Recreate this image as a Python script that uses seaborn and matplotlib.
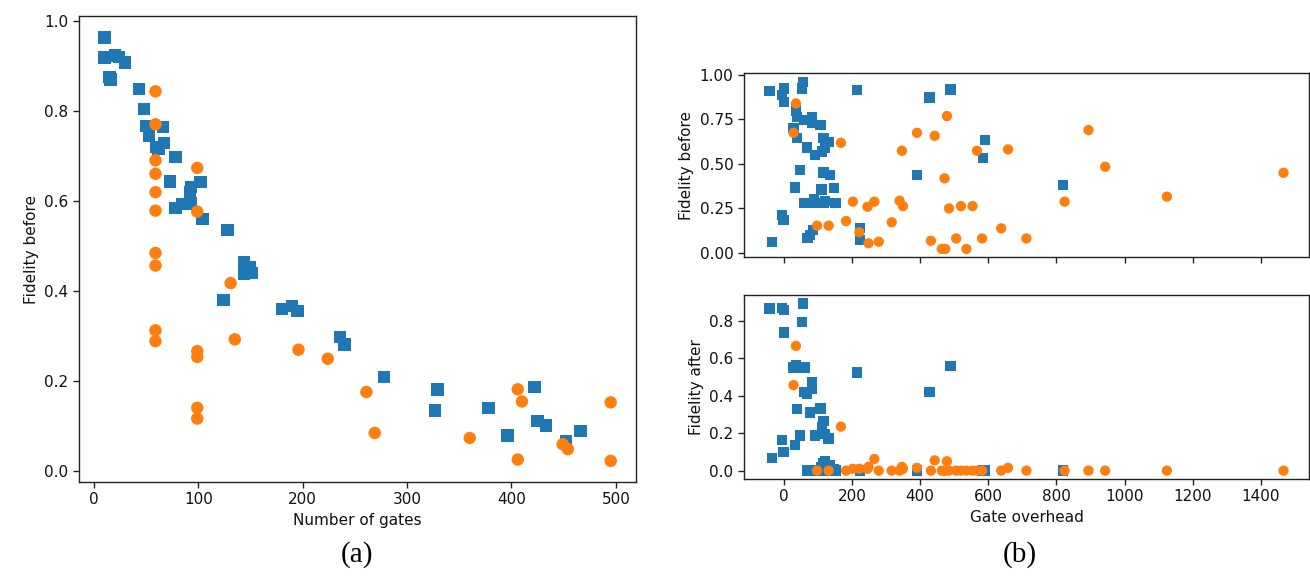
import numpy as np
import pandas as pd
import matplotlib
matplotlib.use("Agg")
import matplotlib.pyplot as plt
import seaborn as sns

# ---------- Panel (a): fidelity before vs number of gates ----------
a_blue_gates = [10, 10, 20, 24, 30, 15, 16, 43, 48, 50, 66, 53, 67, 60, 62, 78, 73, 102,
                93, 92, 78, 85, 93, 104, 128, 144, 149, 144, 151, 124, 180, 190, 195,
                236, 240, 278, 329, 327, 378, 396, 422, 425, 433, 452, 466]
a_blue_fid = [0.963, 0.918, 0.923, 0.920, 0.907, 0.875, 0.869, 0.848, 0.804, 0.766, 0.764,
              0.745, 0.728, 0.719, 0.716, 0.697, 0.643, 0.641, 0.630, 0.619, 0.584, 0.593,
              0.594, 0.560, 0.535, 0.463, 0.452, 0.437, 0.440, 0.380, 0.359, 0.366, 0.355,
              0.297, 0.281, 0.208, 0.181, 0.134, 0.140, 0.078, 0.186, 0.110, 0.101, 0.065,
              0.089]
a_orange_gates = [59, 59, 59, 59, 59, 59, 59, 59, 59, 59, 99, 99, 99, 99, 99, 99,
                  131, 135, 196, 224, 261, 269, 360, 406, 410, 406, 449, 454, 495, 495]
a_orange_fid = [0.843, 0.770, 0.690, 0.660, 0.619, 0.578, 0.484, 0.456, 0.312, 0.288,
                0.673, 0.576, 0.266, 0.253, 0.140, 0.116, 0.417, 0.292, 0.269, 0.249,
                0.175, 0.084, 0.073, 0.181, 0.154, 0.025, 0.059, 0.048, 0.152, 0.022]

# ---------- Panel (b): fidelity before/after vs gate overhead ----------
b_blue_overhead = [-41, -34, -5, 2, 2, -5, 0, 57, 54, 37, 39, 61, 83, 83, 108, 29, 39, 69,
                   93, 117, 132, 122, 113, 49, 117, 137, 34, 111, 147, 59, 78, 98, 117, 90,
                   152, 86, 78, 70, 215, 225, 225, 428, 489, 591, 585, 391, 819, 122]
b_blue_before = [0.910, 0.062, 0.886, 0.923, 0.848, 0.212, 0.184, 0.961, 0.923, 0.800,
                 0.764, 0.746, 0.764, 0.727, 0.717, 0.699, 0.643, 0.592, 0.549, 0.643,
                 0.624, 0.587, 0.568, 0.465, 0.450, 0.437, 0.366, 0.356, 0.362, 0.281,
                 0.281, 0.281, 0.281, 0.300, 0.281, 0.128, 0.100, 0.081, 0.914, 0.137,
                 0.071, 0.873, 0.918, 0.633, 0.534, 0.437, 0.380, 0.290]
b_blue_after = [0.866, 0.066, 0.871, 0.859, 0.738, 0.165, 0.101, 0.894, 0.795, 0.564,
                0.551, 0.551, 0.471, 0.435, 0.332, 0.551, 0.329, 0.410, 0.187, 0.267,
                0.172, 0.196, 0.231, 0.187, 0.040, 0.030, 0.137, 0.020, 0.010, 0.421,
                0.311, 0.000, 0.000, 0.000, 0.000, 0.000, 0.000, 0.000, 0.524, 0.000,
                0.000, 0.421, 0.560, 0.000, 0.000, 0.000, 0.000, 0.050]
b_orange_overhead = [36, 29, 168, 203, 246, 266, 98, 132, 183, 222, 249, 279, 479, 391,
                     443, 347, 567, 658, 894, 943, 1466, 472, 340, 350, 485, 520, 554, 824,
                     1124, 317, 638, 432, 506, 582, 712, 464, 474, 536]
b_orange_before = [0.839, 0.674, 0.618, 0.287, 0.258, 0.287, 0.152, 0.152, 0.178, 0.115,
                   0.053, 0.062, 0.768, 0.674, 0.657, 0.573, 0.573, 0.581, 0.689, 0.483,
                   0.449, 0.418, 0.292, 0.262, 0.249, 0.262, 0.262, 0.287, 0.315, 0.171,
                   0.137, 0.067, 0.080, 0.080, 0.080, 0.021, 0.021, 0.021]
b_orange_after = [0.667, 0.457, 0.235, 0.010, 0.010, 0.062, 0.000, 0.000, 0.000, 0.010,
                  0.020, 0.000, 0.050, 0.015, 0.055, 0.020, 0.000, 0.015, 0.000, 0.000,
                  0.000, 0.000, 0.000, 0.010, 0.000, 0.000, 0.000, 0.000, 0.000, 0.000,
                  0.000, 0.000, 0.000, 0.000, 0.000, 0.000, 0.000, 0.000]

df_a = pd.DataFrame({
    "gates": a_blue_gates + a_orange_gates,
    "fid": a_blue_fid + a_orange_fid,
    "kind": ["A"] * len(a_blue_gates) + ["B"] * len(a_orange_gates),
})
df_b = pd.DataFrame({
    "overhead": b_blue_overhead + b_orange_overhead,
    "before": b_blue_before + b_orange_before,
    "after": b_blue_after + b_orange_after,
    "kind": ["A"] * len(b_blue_overhead) + ["B"] * len(b_orange_overhead),
})

sns.set_style("ticks")
plt.rcParams["font.family"] = ["DejaVu Sans"]
plt.rcParams["axes.edgecolor"] = "#222222"
plt.rcParams["xtick.color"] = "#222222"
plt.rcParams["ytick.color"] = "#222222"
plt.rcParams["xtick.labelcolor"] = "#111111"
plt.rcParams["ytick.labelcolor"] = "#111111"
plt.rcParams["axes.labelcolor"] = "#111111"
plt.rcParams["text.color"] = "#111111"

palette = {"A": "#1f77b4", "B": "#ff7f0e"}
markers = {"A": "s", "B": "o"}

fig = plt.figure(figsize=(13.1, 5.78), dpi=100)
ax_a = fig.add_axes([0.0603, 0.166, 0.4252, 0.806])
ax_t = fig.add_axes([0.5679, 0.5548, 0.4315, 0.3183])
ax_b = fig.add_axes([0.5679, 0.1713, 0.4315, 0.3183], sharex=ax_t)

sns.scatterplot(data=df_a, x="gates", y="fid", hue="kind", style="kind",
                palette=palette, markers=markers, s=80, linewidth=0,
                legend=False, ax=ax_a)
sns.scatterplot(data=df_b, x="overhead", y="before", hue="kind", style="kind",
                palette=palette, markers=markers, s=55, linewidth=0,
                legend=False, ax=ax_t)
sns.scatterplot(data=df_b, x="overhead", y="after", hue="kind", style="kind",
                palette=palette, markers=markers, s=55, linewidth=0,
                legend=False, ax=ax_b)

fs = 11
ax_a.set_xlabel("Number of gates", fontsize=fs)
ax_a.set_ylabel("Fidelity before", fontsize=fs)
ax_a.set_xticks([0, 100, 200, 300, 400, 500])
ax_a.set_yticks([0.0, 0.2, 0.4, 0.6, 0.8, 1.0])

ax_t.set_xlabel("")
ax_t.set_ylabel("Fidelity before", fontsize=fs)
ax_t.set_yticks([0.0, 0.25, 0.5, 0.75, 1.0])
ax_t.tick_params(labelbottom=False)

ax_b.set_xlabel("Gate overhead", fontsize=fs)
ax_b.set_ylabel("Fidelity after", fontsize=fs)
ax_b.set_xticks([0, 200, 400, 600, 800, 1000, 1200, 1400])
ax_b.set_yticks([0.0, 0.2, 0.4, 0.6, 0.8])

for ax in (ax_a, ax_t, ax_b):
    ax.tick_params(labelsize=fs, length=4, width=1)
    for sp in ax.spines.values():
        sp.set_visible(True)
        sp.set_linewidth(1.0)

fig.text(357 / 1310, 1 - 555 / 578, "(a)", ha="center", va="center",
         fontsize=21, family=["Liberation Serif"], color="black")
fig.text(1020 / 1310, 1 - 555 / 578, "(b)", ha="center", va="center",
         fontsize=21, family=["Liberation Serif"], color="black")

fig.savefig("out.png", dpi=100)
